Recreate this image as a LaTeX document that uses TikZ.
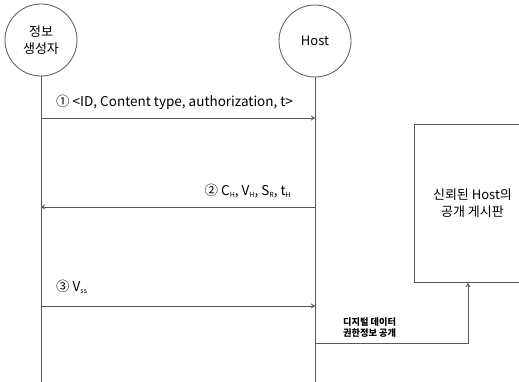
\documentclass[tikz,border=0pt]{standalone}
\usepackage{fontspec}
\setmainfont{Noto Sans CJK KR}
\usetikzlibrary{arrows.meta}
% small lowered index letters
\newcommand\idx[1]{\raisebox{-0.35ex}{\fontsize{7}{7}\selectfont #1}}
\begin{document}
\begin{tikzpicture}[x=1pt,y=-1pt,
  line/.style={draw=black!65,line width=0.9pt},
  msg/.style={line,-{To[length=4pt,width=5pt]}},
  actor/.style={circle,draw=black!60,line width=0.9pt,minimum size=72pt,inner sep=0pt,align=center,font=\fontsize{13}{17}\selectfont},
  lbl/.style={inner sep=0pt,font=\fontsize{13.5}{15}\selectfont},
  note/.style={inner sep=0pt,align=left,font=\fontsize{9.2}{11}\selectfont\bfseries}]
\useasboundingbox (0,0) rectangle (519,382);
% participants
\node[actor] (src) at (41,40) {정보\\생성자};
\node[actor] (host) at (315,41) {Host};
\coordinate (srcEnd) at (41,382);
\coordinate (hostEnd) at (315,382);
\draw[line] (src.south) -- (srcEnd);
\draw[line] (host.south) -- (hostEnd);
% message points on the lifelines
\coordinate (s1) at (41,118);  \coordinate (h1) at (315,118);
\coordinate (s2) at (41,207);  \coordinate (h2) at (315,207);
\coordinate (s3) at (41,306);  \coordinate (h3) at (315,306);
\coordinate (h4) at (315,343);
\draw[msg] (s1) -- (h1);
\draw[msg] (h2) -- (s2);
\draw[msg] (s3) -- (h3);
\node[lbl,anchor=west] (m1) at (56,102) {① <ID, Content type, authorization, t>};
\node[lbl,anchor=east] (m2) at (291,191) {② C\idx{H}, V\idx{H}, S\idx{R}, t\idx{H}};
\node[lbl,anchor=west] (m3) at (56,287) {③ V\idx{ss}};
% bulletin board
\node[draw=black!65,line width=0.9pt,minimum width=116pt,minimum height=158pt,anchor=north west,inner sep=0pt,align=center,font=\fontsize{13}{17}\selectfont] (board) at (414,124) {신뢰된 Host의\\공개 게시판};
\coordinate (bend) at (468,343);
\draw[msg] (h4) -- (bend) -- (bend |- board.south);
\node[note,anchor=south west] (m4) at (343,338) {디지털 데이터\\권한정보 공개};
\end{tikzpicture}
\end{document}
